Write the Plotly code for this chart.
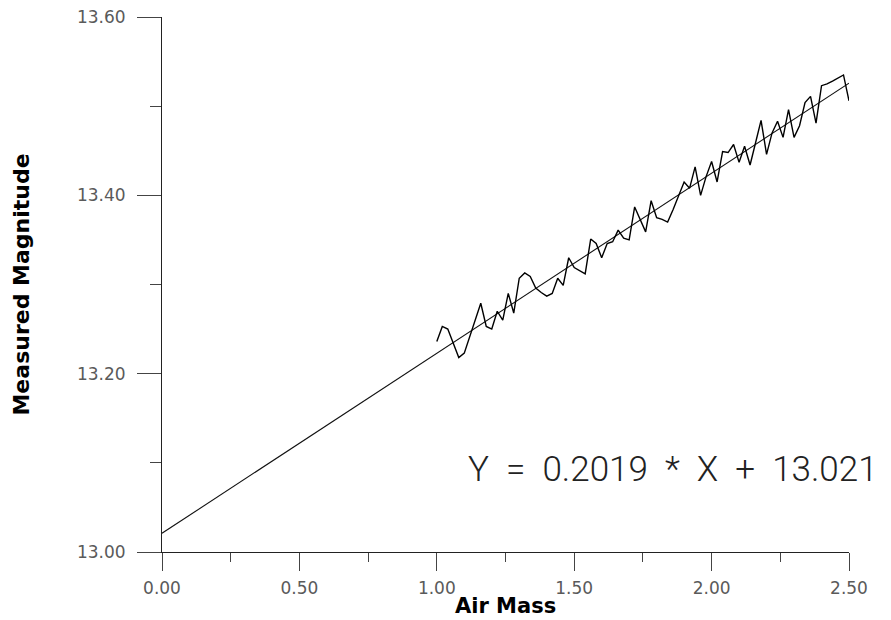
import plotly.graph_objects as go

# Measured magnitude of the star at each air mass (X from 1.00 to 2.50 in 0.02 steps)
air_mass = [round(1.00 + 0.02 * i, 2) for i in range(76)]
magnitude = [
    13.236, 13.253, 13.250, 13.234, 13.218, 13.223, 13.242, 13.261, 13.279, 13.253,
    13.250, 13.270, 13.260, 13.290, 13.268, 13.307, 13.313, 13.309, 13.296, 13.291,
    13.287, 13.290, 13.307, 13.299, 13.330, 13.319, 13.315, 13.312, 13.351, 13.346,
    13.330, 13.346, 13.348, 13.361, 13.352, 13.350, 13.387, 13.373, 13.359, 13.394,
    13.375, 13.373, 13.370, 13.384, 13.400, 13.415, 13.408, 13.432, 13.400, 13.421,
    13.438, 13.415, 13.449, 13.448, 13.457, 13.437, 13.455, 13.434, 13.459, 13.484,
    13.446, 13.470, 13.483, 13.465, 13.496, 13.465, 13.478, 13.504, 13.511, 13.481,
    13.523, 13.525, 13.528, 13.532, 13.535, 13.506,
]

# Linear extinction fit: Y = slope * X + intercept
slope = 0.2019
intercept = 13.021
fit_x = [0.0, 2.5]
fit_y = [slope * x + intercept for x in fit_x]

x_ticks = [0.0, 0.5, 1.0, 1.5, 2.0, 2.5]
y_ticks = [13.0, 13.2, 13.4, 13.6]

tick_font = dict(family="DejaVu Sans", size=17, color="#5a5a5a")
title_font = dict(family="DejaVu Sans", size=21, color="#000000", weight="bold")

fig = go.Figure()
fig.add_trace(go.Scatter(
    x=fit_x, y=fit_y, mode="lines",
    line=dict(color="#111111", width=1.1), hoverinfo="skip", showlegend=False,
))
fig.add_trace(go.Scatter(
    x=air_mass, y=magnitude, mode="lines",
    line=dict(color="#000000", width=1.4), showlegend=False,
))

fig.update_layout(
    width=891, height=620,
    margin=dict(l=162, r=42, t=17, b=68),
    paper_bgcolor="white", plot_bgcolor="white",
    xaxis=dict(
        range=[0, 2.5], tickvals=x_ticks, tickformat=".2f",
        showgrid=False, zeroline=False, automargin=False,
        showline=True, linecolor="#222222", linewidth=1,
        ticks="outside", ticklen=18, tickwidth=1, tickcolor="#444444",
        tickfont=tick_font, ticklabelstandoff=3,
        minor=dict(dtick=0.25, ticks="outside", ticklen=9, tickwidth=1, tickcolor="#444444", showgrid=False),
    ),
    yaxis=dict(
        range=[13.0, 13.6], tickvals=y_ticks, tickformat=".2f",
        showgrid=False, zeroline=False, automargin=False,
        showline=True, linecolor="#222222", linewidth=1,
        ticks="outside", ticklen=24, tickwidth=1, tickcolor="#444444",
        tickfont=tick_font, ticklabelstandoff=8,
        minor=dict(dtick=0.1, ticks="outside", ticklen=11, tickwidth=1, tickcolor="#444444", showgrid=False),
    ),
    annotations=[
        dict(text="Air Mass", xref="paper", yref="paper", x=0.5, y=-0.101,
             xanchor="center", yanchor="middle", showarrow=False, font=title_font),
        dict(text="Measured Magnitude", xref="paper", yref="paper", x=-0.2052, y=0.5,
             xanchor="center", yanchor="middle", textangle=-90, showarrow=False,
             font=dict(family="DejaVu Sans", size=22, color="#000000", weight="bold")),
        dict(text=f"Y  =  {slope:.4f}  *  X  +  {intercept:.3f}", xref="paper", yref="paper",
             x=1.045, y=0.154, xanchor="right", yanchor="middle", showarrow=False,
             font=dict(family="Roboto", size=35, color="#222222", weight=300)),
    ],
)

fig.write_html("out.html")
